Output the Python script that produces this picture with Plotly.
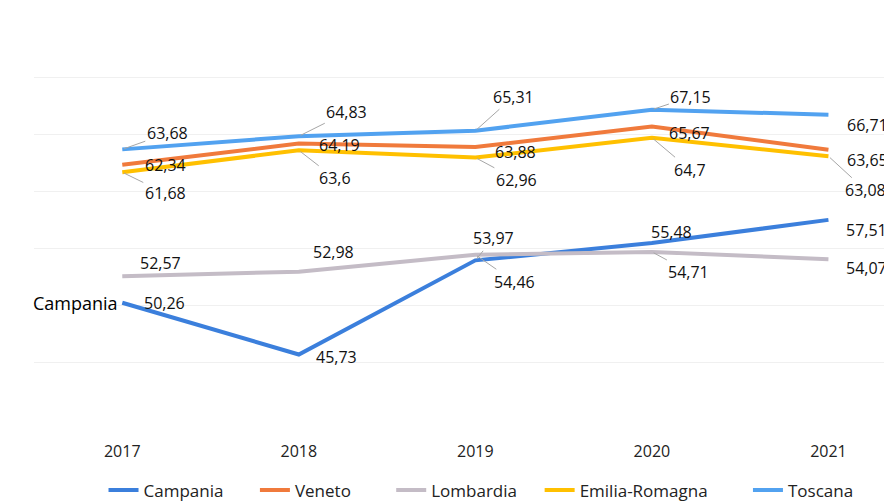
import plotly.graph_objects as go

years = ['2017', '2018', '2019', '2020', '2021']

campania = [50.26, 45.73, 53.97, 55.48, 57.51]
veneto = [62.34, 64.19, 63.88, 65.67, 63.65]
lombardia = [52.57, 52.98, 54.46, 54.71, 54.07]
emilia_romagna = [61.68, 63.6, 62.96, 64.7, 63.08]
toscana = [63.68, 64.83, 65.31, 67.15, 66.71]

series = [
    ('Campania', campania, '#3b7fdc'),
    ('Veneto', veneto, '#f07a3c'),
    ('Lombardia', lombardia, '#c4bcc6'),
    ('Emilia-Romagna', emilia_romagna, '#ffc000'),
    ('Toscana', toscana, '#52a2f0'),
]

# label offsets in pixels (dx, dy) and whether a leader line is drawn
label_pos = {
    'Toscana': [(45, -16, True), (48, -24, True), (38, -34, True), (39, -13, True), (39, 10, False)],
    'Veneto': [(43, 0, False), (41, 1, False), (40, 5, False), (38, 6, False), (39, 10, False)],
    'Emilia-Romagna': [(43, 21, True), (36, 28, True), (41, 22, True), (38, 32, True), (37, 34, True)],
    'Lombardia': [(38, -13, False), (35, -20, False), (39, 27, True), (37, 20, True), (38, 9, False)],
    'Campania': [(42, 0, False), (38, 2, False), (18, -22, True), (20, -11, False), (38, 10, False)],
}

# extra room after each legend entry (non-breaking spaces)
legend_pad = {'Campania': 6, 'Veneto': 8, 'Lombardia': 4, 'Emilia-Romagna': 8, 'Toscana': 0}

font = 'Open Sans, Noto Sans, sans-serif'

fig = go.Figure()
for name, vals, color in series:
    fig.add_trace(go.Scatter(
        x=list(range(len(years))), y=vals,
        name=name + '\u00a0' * legend_pad[name],
        mode='lines', line=dict(color=color, width=4),
    ))

annotations = []
for name, vals, color in series:
    for i, v in enumerate(vals):
        dx, dy, leader = label_pos[name][i]
        txt = f'{v:g}'.replace('.', ',')
        annotations.append(dict(
            x=i, y=v, xref='x', yref='y', text=txt,
            showarrow=leader, arrowhead=0, arrowwidth=1, arrowcolor='#a6a6a6',
            ax=dx, ay=dy, standoff=2,
            xshift=0 if leader else dx, yshift=0 if leader else -dy,
            font=dict(family=font, size=16, color='#111111'),
        ))

annotations.append(dict(
    x=0, y=campania[0], xref='x', yref='y', text='Campania',
    showarrow=False, xanchor='right', xshift=-2,
    font=dict(family=font, size=18, color='#000000'),
))

# page body has an 8px margin, so the figure is drawn 8px smaller
fig.update_layout(
    width=884, height=495,
    margin=dict(l=26, r=0, t=12, b=83, autoexpand=False),
    paper_bgcolor='white', plot_bgcolor='white',
    showlegend=True,
    legend=dict(
        orientation='h', x=0.521, xanchor='center', y=-0.176, yanchor='middle',
        font=dict(family=font, size=17, color='#222222'),
    ),
    annotations=annotations,
)
fig.update_xaxes(
    range=[-0.5, 4.36], tickvals=list(range(len(years))), ticktext=years,
    showgrid=False, zeroline=False, showline=False,
    ticklabelstandoff=20,
    tickfont=dict(family=font, size=16, color='#222222'),
)
fig.update_yaxes(
    range=[40, 75], dtick=5, tick0=40, showticklabels=False,
    showgrid=True, gridcolor='#f0f0f0', gridwidth=1, zeroline=False,
)

fig.write_html('out.html')
